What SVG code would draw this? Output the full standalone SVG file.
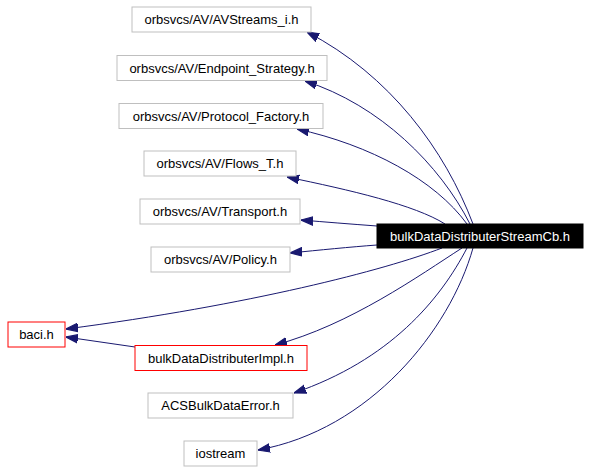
<svg xmlns="http://www.w3.org/2000/svg" width="589" height="472" viewBox="0 0 589 472">
<style>
.n rect{fill:#fff;stroke:#bfbfbf;stroke-width:1}
.n.red rect{stroke:#ff0000}
.n.main rect{fill:#000;stroke:#000}
.n text{font-family:"Liberation Sans",Arial,sans-serif;font-size:13px;text-anchor:middle;fill:#000}
.n.main text{fill:#fff}
#edges path{fill:none;stroke:#191970;stroke-width:1;marker-end:url(#arr)}
</style>
<defs>
<marker id="arr" markerUnits="userSpaceOnUse" markerWidth="12" markerHeight="10" refX="10" refY="3.5" orient="auto" viewBox="0 0 10 7">
<path d="M0,0 L10,3.5 L0,7 Z" fill="#191970" stroke="#191970" stroke-width="1"/>
</marker>
</defs>
<rect width="589" height="472" fill="#fff"/>
<g id="edges">
<path d="M473,224 C445,150 390,75 307,32"/>
<path d="M470,224 C440,165 380,105 305,81"/>
<path d="M467,224 C435,180 370,145 297,129"/>
<path d="M445,224 C415,205 350,190 287,177"/>
<path d="M377,226 C350,224 325,222 301,220"/>
<path d="M377,245 C350,247 320,250 290,253"/>
<path d="M442,248 C385,270 250,305 66,329"/>
<path d="M462,248 C420,275 350,325 275,345"/>
<path d="M467,248 C440,300 390,360 294,393"/>
<path d="M473,248 C450,330 370,430 258,450"/>
<path d="M135,347 L66,337"/>
</g>
<g id="n_avstreams" class="n"><rect x="132" y="7" width="179" height="25"/><text x="221.5" y="24">orbsvcs/AV/AVStreams_i.h</text></g>
<g id="n_endpoint" class="n"><rect x="117" y="55.5" width="210" height="25"/><text x="222" y="72.5">orbsvcs/AV/Endpoint_Strategy.h</text></g>
<g id="n_protocol" class="n"><rect x="119" y="103.5" width="204" height="25"/><text x="221" y="120.5">orbsvcs/AV/Protocol_Factory.h</text></g>
<g id="n_flows" class="n"><rect x="144" y="151" width="152" height="25"/><text x="220" y="168">orbsvcs/AV/Flows_T.h</text></g>
<g id="n_transport" class="n"><rect x="140" y="199" width="160" height="25"/><text x="220" y="216">orbsvcs/AV/Transport.h</text></g>
<g id="n_policy" class="n"><rect x="151" y="247" width="139" height="25"/><text x="220.5" y="264">orbsvcs/AV/Policy.h</text></g>
<g id="n_baci" class="n red"><rect x="8" y="322" width="57" height="25"/><text x="36.5" y="339">baci.h</text></g>
<g id="n_impl" class="n red"><rect x="135" y="345.5" width="172" height="25"/><text x="221" y="362.5">bulkDataDistributerImpl.h</text></g>
<g id="n_acserr" class="n"><rect x="148" y="393" width="145" height="25"/><text x="220.5" y="410">ACSBulkDataError.h</text></g>
<g id="n_iostream" class="n"><rect x="184" y="441" width="73" height="25"/><text x="220.5" y="458">iostream</text></g>
<g id="n_main" class="n main"><rect x="377" y="224" width="206" height="24"/><text x="480" y="240.5">bulkDataDistributerStreamCb.h</text></g>
</svg>
